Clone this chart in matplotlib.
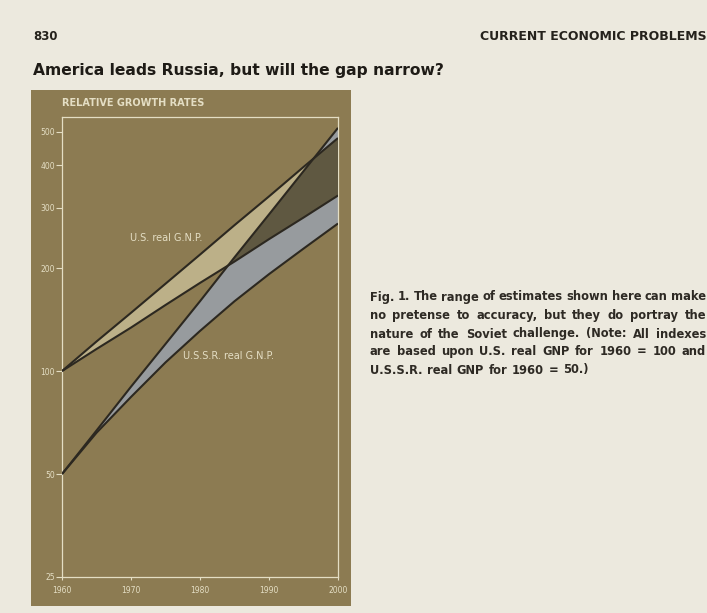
import numpy as np
import matplotlib
matplotlib.use("Agg")
import matplotlib.pyplot as plt
from matplotlib.patches import Rectangle

# values (index, U.S. 1960 = 100, U.S.S.R. 1960 = 50)
years = [1960, 1965, 1970, 1975, 1980, 1985, 1990, 1995, 2000]
us_high = [100, 122, 148, 180, 219, 267, 324, 395, 480]
us_low = [100, 116, 134, 156, 181, 209, 243, 281, 326]
ussr_high = [50, 67, 90, 120, 160, 215, 287, 384, 514]
ussr_low = [50, 66, 84, 106, 131, 160, 192, 228, 270]

y_ticks = [25, 50, 100, 200, 300, 400, 500]
x_ticks = [1960, 1970, 1980, 1990, 2000]

caption = [
    "Fig. 1. The range of estimates shown here can make",
    "no pretense to accuracy, but they do portray the",
    "nature of the Soviet challenge. (Note: All indexes",
    "are based upon U.S. real GNP for 1960 = 100 and",
    "U.S.S.R. real GNP for 1960 = 50.)",
]

page = "#ECE9DE"
olive = "#8C7B52"
tan = "#BCB088"
grey = "#979B9E"
dark = "#5F5841"
ink = "#2C2820"
cream = "#E4DEC4"

W, H = 707, 613
fig = plt.figure(figsize=(W / 100, H / 100), dpi=100, facecolor=page)

# olive panel behind the chart
fig.add_artist(Rectangle((31 / W, 1 - 606 / H), 320 / W, 516 / H,
                         transform=fig.transFigure, facecolor=olive,
                         edgecolor="none", zorder=0))

ax = fig.add_axes([62 / W, 1 - 577 / H, 276 / W, 460 / H])
ax.set_facecolor(olive)
ax.set_yscale("log")
ax.set_xlim(1960, 2000)
ax.set_ylim(25, 553)

x = np.array(years)
xs = np.r_[x, x[::-1]]
us_poly = np.r_[us_high, us_low[::-1]]
ussr_poly = np.r_[ussr_high, ussr_low[::-1]]

ax.fill(xs, us_poly, color=tan, lw=0, zorder=1)
ussr_patch = ax.fill(xs, ussr_poly, color=grey, lw=0, zorder=2)[0]
overlap = ax.fill(xs, us_poly, color=dark, lw=0, zorder=3)[0]
overlap.set_clip_path(ussr_patch)

for s in [us_high, us_low, ussr_high, ussr_low]:
    ax.plot(x, s, color=ink, lw=1.5, zorder=4, solid_capstyle="butt",
            solid_joinstyle="round")

ax.text(1969.9, 245, "U.S. real G.N.P.", color=cream, fontsize=7,
        va="center", ha="left")
ax.text(1977.5, 111, "U.S.S.R. real G.N.P.", color=cream, fontsize=7,
        va="center", ha="left")

ax.minorticks_off()
ax.set_yticks(y_ticks)
ax.set_yticklabels([str(v) for v in y_ticks])
ax.set_xticks(x_ticks)
ax.set_xticklabels([str(v) for v in x_ticks])
ax.tick_params(axis="y", direction="out", length=4, width=0.8, color=cream,
               labelcolor=cream, labelsize=5.5, pad=1)
ax.tick_params(axis="x", direction="out", length=2.5, width=0.8, color=cream,
               labelcolor=cream, labelsize=5.5, pad=4)
for sp in ax.spines.values():
    sp.set_color(cream)
    sp.set_linewidth(0.9)

fig.text(62 / W, 1 - 103 / H, "RELATIVE GROWTH RATES", color=cream,
         fontsize=7, fontweight="bold", va="center", ha="left")

# page header and title
fig.text(33 / W, 1 - 36 / H, "830", fontsize=8.5, fontweight="bold",
         color="#25221C", va="center", ha="left")
fig.text(707 / W, 1 - 36 / H, "CURRENT ECONOMIC PROBLEMS", fontsize=9,
         fontweight="bold", color="#25221C", va="center", ha="right")
fig.text(33 / W, 1 - 70 / H, "America leads Russia, but will the gap narrow?",
         fontsize=11.2, fontweight="bold", color="#1E1B16", va="center",
         ha="left")

# justified caption, word by word
renderer = fig.canvas.get_renderer()
x0, x1 = 370, 706
line_y = [297, 315.5, 334, 352, 370]
for i, (line, yy) in enumerate(zip(caption, line_y)):
    words = line.split()
    texts = []
    for j, w in enumerate(words):
        bold = (i == 0 and j < 2)
        t = fig.text(0, 1 - yy / H, w, fontsize=8.3,
                     fontweight="bold" if bold else "semibold",
                     color="#2E2A24", va="center", ha="left")
        texts.append(t)
    widths = [t.get_window_extent(renderer).width for t in texts]
    if i < len(caption) - 1:
        gap = (x1 - x0 - sum(widths)) / (len(words) - 1)
    else:
        gap = 4.5
    pos = x0
    for t, wd in zip(texts, widths):
        t.set_x(pos / W)
        pos += wd + gap

fig.savefig("out.png", dpi=100, facecolor=page)
